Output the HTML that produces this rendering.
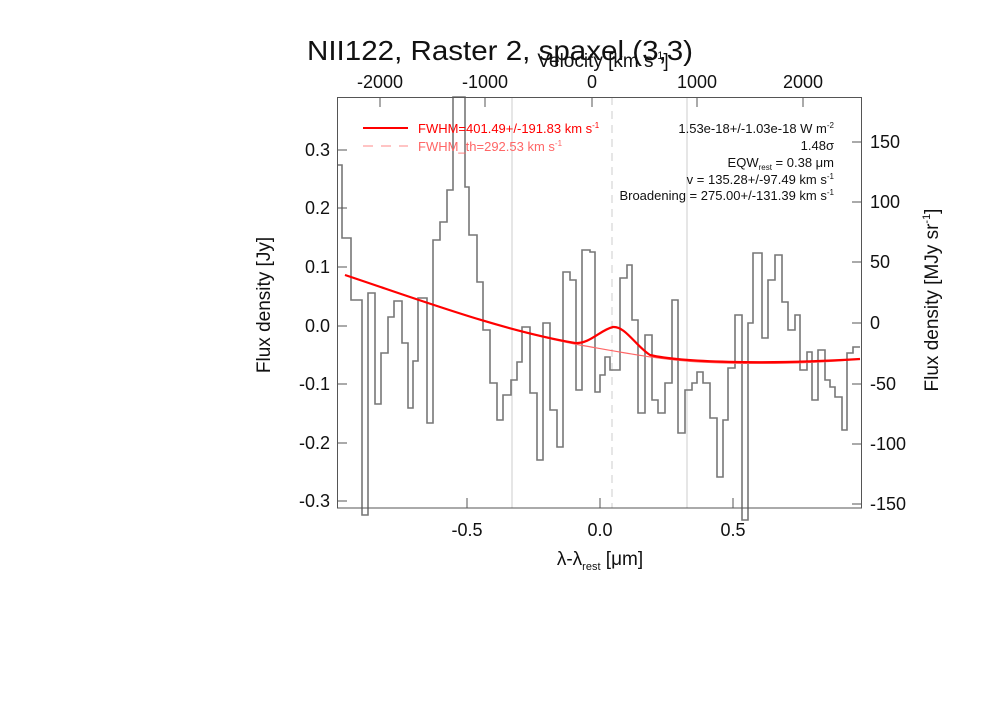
<!DOCTYPE html>
<html><head><meta charset="utf-8"><style>body{margin:0;background:#fff}svg{display:block}text{font-family:"Liberation Sans",sans-serif}</style></head><body>
<svg width="1000" height="714" viewBox="0 0 1000 714">
<rect width="1000" height="714" fill="#fff"/>
<line x1="512" y1="97" x2="512" y2="508" stroke="#ccc" stroke-width="1"/>
<line x1="687" y1="97" x2="687" y2="508" stroke="#ccc" stroke-width="1"/>
<line x1="612" y1="97" x2="612" y2="508" stroke="#ccc" stroke-width="1" stroke-dasharray="8,6"/>
<polyline fill="none" stroke="#777" stroke-width="1.6" points="
337,165 342,165 342,238 351,238 351,300 362,300 362,515 368,515 368,293 375,293 375,404 381,404 381,353 388,353 388,317 394,317 394,301 402,301 402,343 408,343 408,408 413,408 413,361 418,361 418,298 427,298 427,423 433,423 433,240 440,240 440,222 447,222 447,190 453,190 453,97 465,97 465,187 469,187 469,235 477,235 477,282 483,282 483,330 490,330 490,383 497,383 497,420 503,420 503,395 511,395 511,380 517,380 517,362 522,362 522,327 530,327 530,393 537,393 537,460 543,460 543,323 550,323 550,410 557,410 557,447 563,447 563,272 570,272 570,280 576,280 576,390 582,390 582,250 590,250 590,252 595,252 595,392 600,392 600,375 605,375 605,357 610,357 610,370 620,370 620,278 627,278 627,265 632,265 632,320 638,320 638,413 645,413 645,335 652,335 652,400 658,400 658,413 665,413 665,383 672,383 672,300 678,300 678,433 685,433 685,390 692,390 692,383 697,383 697,372 703,372 703,383 710,383 710,418 717,418 717,477 723,477 723,420 728,420 728,368 735,368 735,315 742,315 742,520 748,520 748,323 753,323 753,253 762,253 762,338 768,338 768,280 775,280 775,255 782,255 782,302 788,302 788,330 795,330 795,315 800,315 800,370 807,370 807,352 812,352 812,400 818,400 818,350 825,350 825,380 830,380 830,387 835,387 835,397 842,397 842,430 847,430 847,353 853,353 853,347 860,347"/>
<path d="M345,275 C420,300 500,330 580,345 C620,352 660,360 700,362 C760,365 820,363 860,359" fill="none" stroke="#f66" stroke-width="1.2"/>
<path d="M345,275 C420,300 500,330 575,343 C590,344 600,330 613,327 C625,326 635,345 650,355 C680,362 760,365 860,359" fill="none" stroke="#f00" stroke-width="2.2"/>
<rect x="337.5" y="97.5" width="524" height="410.5" fill="none" stroke="#555" stroke-width="1"/>
<g stroke="#555" stroke-width="1">
<line x1="467" y1="508" x2="467" y2="498"/><line x1="600" y1="508" x2="600" y2="498"/><line x1="733" y1="508" x2="733" y2="498"/>
<line x1="380" y1="97" x2="380" y2="107"/><line x1="485" y1="97" x2="485" y2="107"/><line x1="592" y1="97" x2="592" y2="107"/><line x1="697" y1="97" x2="697" y2="107"/><line x1="803" y1="97" x2="803" y2="107"/>
<line x1="337" y1="150" x2="347" y2="150"/><line x1="337" y1="208" x2="347" y2="208"/><line x1="337" y1="267" x2="347" y2="267"/><line x1="337" y1="326" x2="347" y2="326"/><line x1="337" y1="384" x2="347" y2="384"/><line x1="337" y1="443" x2="347" y2="443"/><line x1="337" y1="501" x2="347" y2="501"/>
<line x1="852" y1="142" x2="862" y2="142"/><line x1="852" y1="202" x2="862" y2="202"/><line x1="852" y1="262" x2="862" y2="262"/><line x1="852" y1="323" x2="862" y2="323"/><line x1="852" y1="384" x2="862" y2="384"/><line x1="852" y1="444" x2="862" y2="444"/><line x1="852" y1="504" x2="862" y2="504"/>
</g>
<text x="307" y="60" font-size="28" textLength="386" lengthAdjust="spacingAndGlyphs" fill="#111">NII122, Raster 2, spaxel (3,3)</text>
<text x="603" y="67" font-size="19" text-anchor="middle" fill="#111">Velocity [km s<tspan font-size="11" dy="-8">-1</tspan><tspan dy="8">]</tspan></text>
<g font-size="18" fill="#111" text-anchor="middle">
<text x="380" y="88">-2000</text><text x="485" y="88">-1000</text><text x="592" y="88">0</text><text x="697" y="88">1000</text><text x="803" y="88">2000</text>
<text x="467" y="536">-0.5</text><text x="600" y="536">0.0</text><text x="733" y="536">0.5</text>
</g>
<text x="600" y="565" font-size="19" text-anchor="middle" fill="#111">λ-λ<tspan font-size="11" dy="5">rest</tspan><tspan dy="-5"> [μm]</tspan></text>
<g font-size="18" fill="#111" text-anchor="end">
<text x="330" y="156">0.3</text><text x="330" y="214">0.2</text><text x="330" y="273">0.1</text><text x="330" y="332">0.0</text><text x="330" y="390">-0.1</text><text x="330" y="449">-0.2</text><text x="330" y="507">-0.3</text>
</g>
<g font-size="18" fill="#111" text-anchor="start">
<text x="870" y="148">150</text><text x="870" y="208">100</text><text x="870" y="268">50</text><text x="870" y="329">0</text><text x="870" y="390">-50</text><text x="870" y="450">-100</text><text x="870" y="510">-150</text>
</g>
<text transform="translate(270,305) rotate(-90)" font-size="19" text-anchor="middle" fill="#111">Flux density [Jy]</text>
<text transform="translate(938,300) rotate(-90)" font-size="19" text-anchor="middle" fill="#111">Flux density [MJy sr<tspan font-size="11" dy="-8">-1</tspan><tspan dy="8">]</tspan></text>
<line x1="363" y1="128" x2="408" y2="128" stroke="#f00" stroke-width="2"/>
<line x1="363" y1="146" x2="408" y2="146" stroke="#f88" stroke-width="1" stroke-dasharray="10,8"/>
<text x="418" y="133" font-size="13" fill="#f00">FWHM=401.49+/-191.83 km s<tspan font-size="8" dy="-5">-1</tspan></text>
<text x="418" y="151" font-size="13" fill="#f66">FWHM_th=292.53 km s<tspan font-size="8" dy="-5">-1</tspan></text>
<g font-size="13" fill="#111" text-anchor="end">
<text x="834" y="133">1.53e-18+/-1.03e-18 W m<tspan font-size="8" dy="-5">-2</tspan></text>
<text x="834" y="150">1.48σ</text>
<text x="834" y="167">EQW<tspan font-size="8" dy="3">rest</tspan><tspan dy="-3"> = 0.38 μm</tspan></text>
<text x="834" y="184">v = 135.28+/-97.49 km s<tspan font-size="8" dy="-5">-1</tspan></text>
<text x="834" y="200">Broadening = 275.00+/-131.39 km s<tspan font-size="8" dy="-5">-1</tspan></text>
</g>
</svg>
</body></html>
